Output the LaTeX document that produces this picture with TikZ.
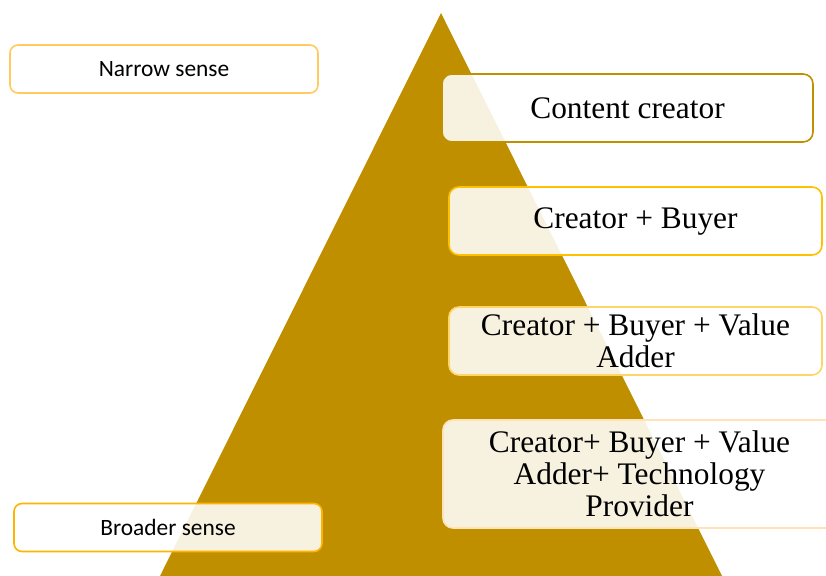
\documentclass[tikz,border=0pt]{standalone}
\usepackage{fontspec}
\setmainfont{Liberation Serif}
\newfontfamily\calfont{Carlito}
\definecolor{tri}{HTML}{BF8F00}
\definecolor{bA}{HTML}{C09000}
\definecolor{bB}{HTML}{FFC000}
\definecolor{bC}{HTML}{FFD568}
\definecolor{bD}{HTML}{FFE2B8}
\definecolor{bN}{HTML}{FFCB60}
\definecolor{bW}{HTML}{FFB400}
\tikzset{
  box/.style={rectangle, rounded corners=10bp, line width=1.6bp, fill=white, fill opacity=0.88, text opacity=1, inner sep=0pt, align=center, font=\fontsize{31.5}{32}\selectfont},
  side/.style={rectangle, rounded corners=8bp, line width=1.6bp, fill=white, fill opacity=0.88, text opacity=1, inner sep=0pt, align=center, font=\calfont\fontsize{23.5}{26}\selectfont}
}
\begin{document}
\begin{tikzpicture}[x=1bp,y=-1bp]
\useasboundingbox (0,0) rectangle (826,576);
\fill[tri] (441,13) -- (722,576) -- (160,576) -- cycle;
\node[side, draw=bN, minimum width=308bp, minimum height=48bp] (narrow) at (164,69) {Narrow sense};
\node[side, draw=bW, minimum width=308bp, minimum height=48bp] (broad) at (168,527.5) {Broader sense};
\node[box, draw=bA, minimum width=371bp, minimum height=68bp] (cc) at (627.5,108) {Content creator};
\node[box, draw=bB, minimum width=373bp, minimum height=68bp] (cb) at (635.5,221) {Creator + Buyer};
\node[box, draw=bC, minimum width=373bp, minimum height=68bp] (cbv) at (635.5,341) {Creator + Buyer + Value\\Adder};
\node[box, draw=bD, minimum width=393bp, minimum height=108bp] (cbvt) at (639.5,474) {Creator+ Buyer + Value\\Adder+ Technology\\Provider};
\end{tikzpicture}
\end{document}
